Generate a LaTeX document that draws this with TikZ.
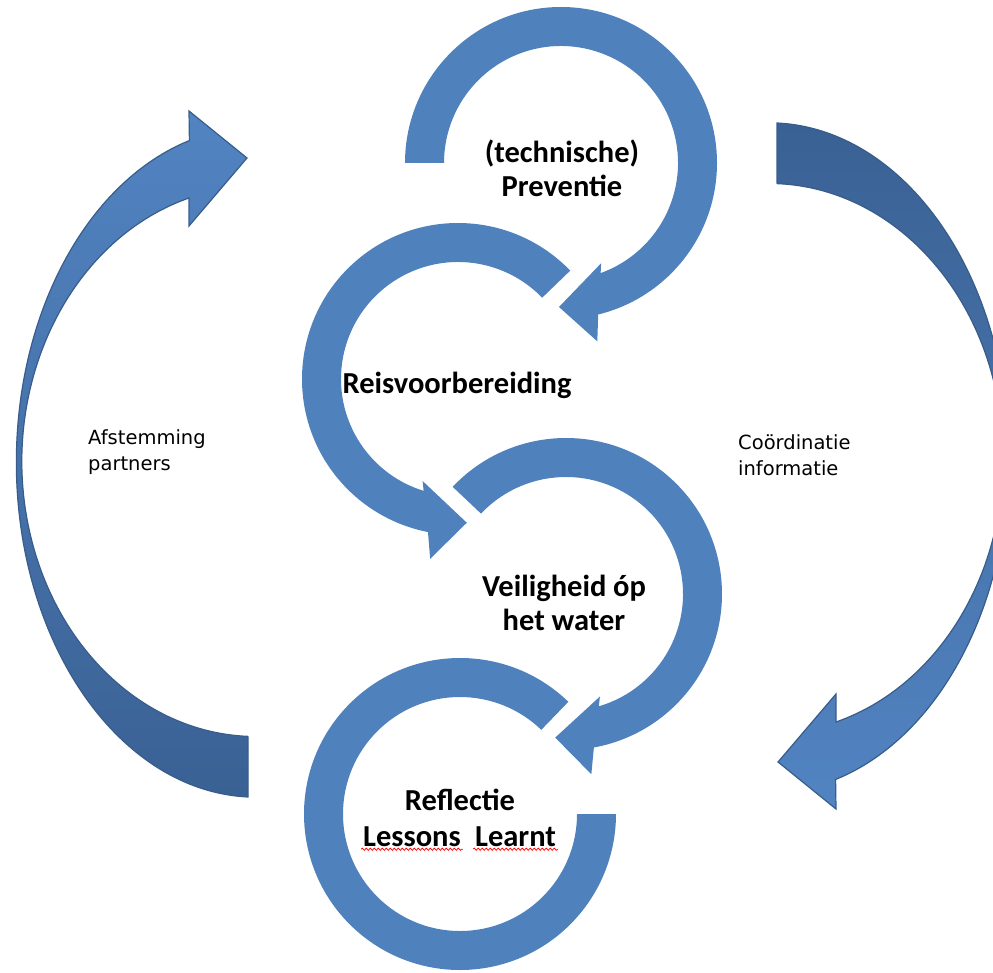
\documentclass[tikz,border=0pt]{standalone}
\usepackage{fontspec}
\setmainfont{Carlito}
\newfontfamily\labelfont{DejaVu Sans}
\usetikzlibrary{positioning,decorations.pathmorphing}

\definecolor{ringblue}{RGB}{79,129,189}
\definecolor{arrowlight}{RGB}{82,132,194}
\definecolor{arrowdark}{RGB}{58,97,148}
\definecolor{arrowline}{RGB}{56,93,138}

\begin{document}
\begin{tikzpicture}[%
x=1pt, y=-1pt,
ring/.style={fill=ringblue},
bigarrow/.style={draw=arrowline, line width=1.2pt},
phase/.style={font=\fontsize{30.5}{34}\selectfont\bfseries, align=center, inner sep=2pt},
side/.style={font=\labelfont\fontsize{19.5}{26}\selectfont, align=left, anchor=west, inner sep=0pt},
typo/.style={red, line width=0.7pt, decorate, decoration={snake, amplitude=1.1pt, segment length=4pt}}
]
\useasboundingbox (0,0) rectangle (993,973);

% outer arrows: left one, and the same turned round for the right
\shade[bigarrow, top color=arrowlight, bottom color=arrowdark] (248,737) -- (248,797)
  arc[start angle=92, end angle=253.8, x radius=240, y radius=335]
  -- (189,111) -- (247,158) -- (189,226) -- (189,198)
  arc[start angle=253.4, end angle=92, x radius=234, y radius=275] -- cycle;
\shade[bigarrow, top color=arrowdark, bottom color=arrowlight, rotate around={180:(512.5,460)}] (248,737) -- (248,797)
  arc[start angle=92, end angle=253.8, x radius=240, y radius=335]
  -- (189,111) -- (247,158) -- (189,226) -- (189,198)
  arc[start angle=253.4, end angle=92, x radius=234, y radius=275] -- cycle;

% ring 1: preventie
\begin{scope}[shift={(561,163)}]
\fill[ring] (180:156) arc[start angle=180, end angle=436.2, radius=156]
  -- (438.5:182) -- (450.8:144) -- (428.2:108) -- (430.2:117)
  arc[start angle=430.2, end angle=180, radius=117] -- cycle;
\end{scope}

% ring 2: reisvoorbereiding
\begin{scope}[shift={(458,379)}]
\fill[ring] (316:156) arc[start angle=316, end angle=101.1, radius=156]
  -- (98.8:182) -- (86.5:144) -- (109.1:108) -- (107.1:117)
  arc[start angle=107.1, end angle=316, radius=117] -- cycle;
\end{scope}

% ring 3: veiligheid
\begin{scope}[shift={(566,594)}]
\fill[ring] (223.4:156) arc[start angle=223.4, end angle=439.7, radius=156]
  -- (442:182) -- (454.3:144) -- (431.7:108) -- (433.7:117)
  arc[start angle=433.7, end angle=223.4, radius=117] -- cycle;
\end{scope}

% ring 4: reflectie
\begin{scope}[shift={(460,814)}]
\fill[ring] (314:156) arc[start angle=314, end angle=0, radius=156]
  -- (0:117) arc[start angle=0, end angle=314, radius=117] -- cycle;
\end{scope}

\node[phase] (preventie) at (562,168) {(technische)\\Preventie};
\node[phase] (reis) at (457,385) {Reisvoorbereiding};
\node[phase] (veilig) at (564,603) {Veiligheid óp\\het water};
\node[phase] (reflectie) at (460,800) {Reflectie};
\node[phase] (lessons) at (412,837) {Lessons};
\node[phase, right=10pt of lessons] (learnt) {Learnt};

% spelling marks
\draw[typo] (lessons.south west) -- (lessons.south east);
\draw[typo] (learnt.south west) -- (learnt.south east);

\node[side] (afstemming) at (88,452) {Afstemming\\partners};
\node[side] (coordinatie) at (738,455) {Coördinatie\\informatie};

\end{tikzpicture}
\end{document}
